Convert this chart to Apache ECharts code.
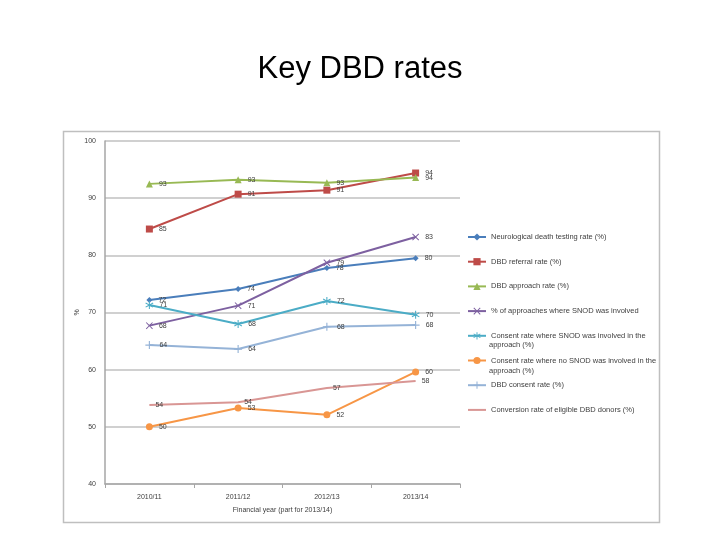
<!DOCTYPE html>
<html><head><meta charset="utf-8">
<script src="https://cdn.jsdelivr.net/npm/echarts@6/dist/echarts.min.js"></script>
<style>html,body{margin:0;padding:0;background:#fff}#c{width:720px;height:540px}</style>
</head><body><div id="c"></div>
<script>
const categories = ['2010/11','2011/12','2012/13','2013/14'];
const neuroTesting = [72.2, 74.1, 77.8, 79.5];
const referral = [84.6, 90.7, 91.4, 94.4];
const approach = [92.5, 93.2, 92.7, 93.6];
const snodInvolved = [67.7, 71.2, 78.7, 83.2];
const consentSnod = [71.3, 68.0, 72.0, 69.6];
const consentNoSnod = [50.0, 53.3, 52.1, 59.6];
const dbdConsent = [64.3, 63.6, 67.5, 67.8];
const conversion = [53.8, 54.3, 56.8, 58.0];
const yTicks = [40, 50, 60, 70, 80, 90, 100];

const X = 'path://M0,1L1,0L5,4L9,0L10,1L6,5L10,9L9,10L5,6L1,10L0,9L4,5Z';
const PLUS = 'path://M4.3,0H5.7V4.3H10V5.7H5.7V10H4.3V5.7H0V4.3H4.3Z';
const STAR = 'path://M4.4,0H5.6V3.9L9,1.9L9.6,3L6.2,5L9.6,7L9,8.1L5.6,6.1V10H4.4V6.1L1,8.1L0.4,7L3.8,5L0.4,3L1,1.9L4.4,3.9Z';

const defs = [
  ['Neurological death testing rate (%)', neuroTesting, '#4a7ebb', 'diamond', 6],
  ['DBD referral rate (%)', referral, '#be4b48', 'rect', 7],
  ['DBD approach rate (%)', approach, '#98b954', 'triangle', 7],
  ['% of approaches where SNOD was involved', snodInvolved, '#7d60a0', X, 7],
  ['Consent rate where SNOD was involved in the approach (%)', consentSnod, '#4bacc6', STAR, 8],
  ['Consent rate where no SNOD was involved in the approach (%)', consentNoSnod, '#f79646', 'circle', 7],
  ['DBD consent rate (%)', dbdConsent, '#95b3d7', PLUS, 8],
  ['Conversion rate of eligible DBD donors (%)', conversion, '#d99694', 'circle', 0.01]
];

const legendFont = { fontFamily: 'Liberation Sans', fontSize: 7.5, color: '#404040' };

const chart = echarts.init(document.getElementById('c'));
chart.setOption({
  animation: false,
  title: { text: 'Key DBD rates', left: 'center', top: 49,
    textStyle: { fontFamily: 'Liberation Sans', fontSize: 31, fontWeight: 'normal', color: '#000' } },
  graphic: [
    { type: 'rect', shape: { x: 63.5, y: 131.5, width: 596, height: 391 },
      style: { fill: 'none', stroke: '#bfbfbf', lineWidth: 1.5 }, z: -1 },
    { type: 'text', left: 489, top: 341, style: { text: 'approach (%)', fill: '#404040', font: '7.5px "Liberation Sans"' } },
    { type: 'text', left: 489, top: 367, style: { text: 'approach (%)', fill: '#404040', font: '7.5px "Liberation Sans"' } }
  ],
  grid: { left: 105, right: 260, top: 141, bottom: 56 },
  legend: {
    orient: 'vertical', left: 467, top: 233, padding: 0, itemGap: 16.7, itemWidth: 18, itemHeight: 9,
    textStyle: legendFont,
    formatter: n => n.replace(' approach (%)', ''),
    data: defs.map((d, i) => i === 7 ? { name: d[0], itemStyle: { opacity: 0 } } : d[0])
  },
  xAxis: {
    type: 'category', data: categories, boundaryGap: true,
    name: 'Financial year (part for 2013/14)', nameLocation: 'middle', nameGap: 23,
    nameTextStyle: { fontFamily: 'Liberation Sans', fontSize: 7, color: '#404040' },
    axisLine: { lineStyle: { color: '#a6a6a6', width: 1.5 } },
    axisTick: { show: true, interval: 0, length: 4, lineStyle: { color: '#a6a6a6' } },
    axisLabel: { fontFamily: 'Liberation Sans', fontSize: 7, color: '#404040', margin: 10 }
  },
  yAxis: {
    type: 'value', min: yTicks[0], max: yTicks[yTicks.length - 1], interval: 10,
    name: '%', nameLocation: 'middle', nameGap: 24, nameRotate: 90,
    nameTextStyle: { fontFamily: 'Liberation Sans', fontSize: 7, color: '#404040' },
    axisLine: { show: true, lineStyle: { color: '#a6a6a6', width: 1.5 } },
    axisTick: { show: false },
    axisLabel: { fontFamily: 'Liberation Sans', fontSize: 7, color: '#404040', margin: 9 },
    splitLine: { lineStyle: { color: '#d0d0d0', width: 2 } }
  },
  series: defs.map(d => ({
    name: d[0], type: 'line', data: d[1], symbol: d[3], symbolSize: d[4],
    showAllSymbol: true,
    lineStyle: { color: d[2], width: 2 },
    itemStyle: { color: d[2] },
    label: { show: true, position: 'right', distance: 6, fontFamily: 'Liberation Sans', fontSize: 7, color: '#404040',
      formatter: p => Math.round(p.value) }
  }))
});
</script></body></html>
